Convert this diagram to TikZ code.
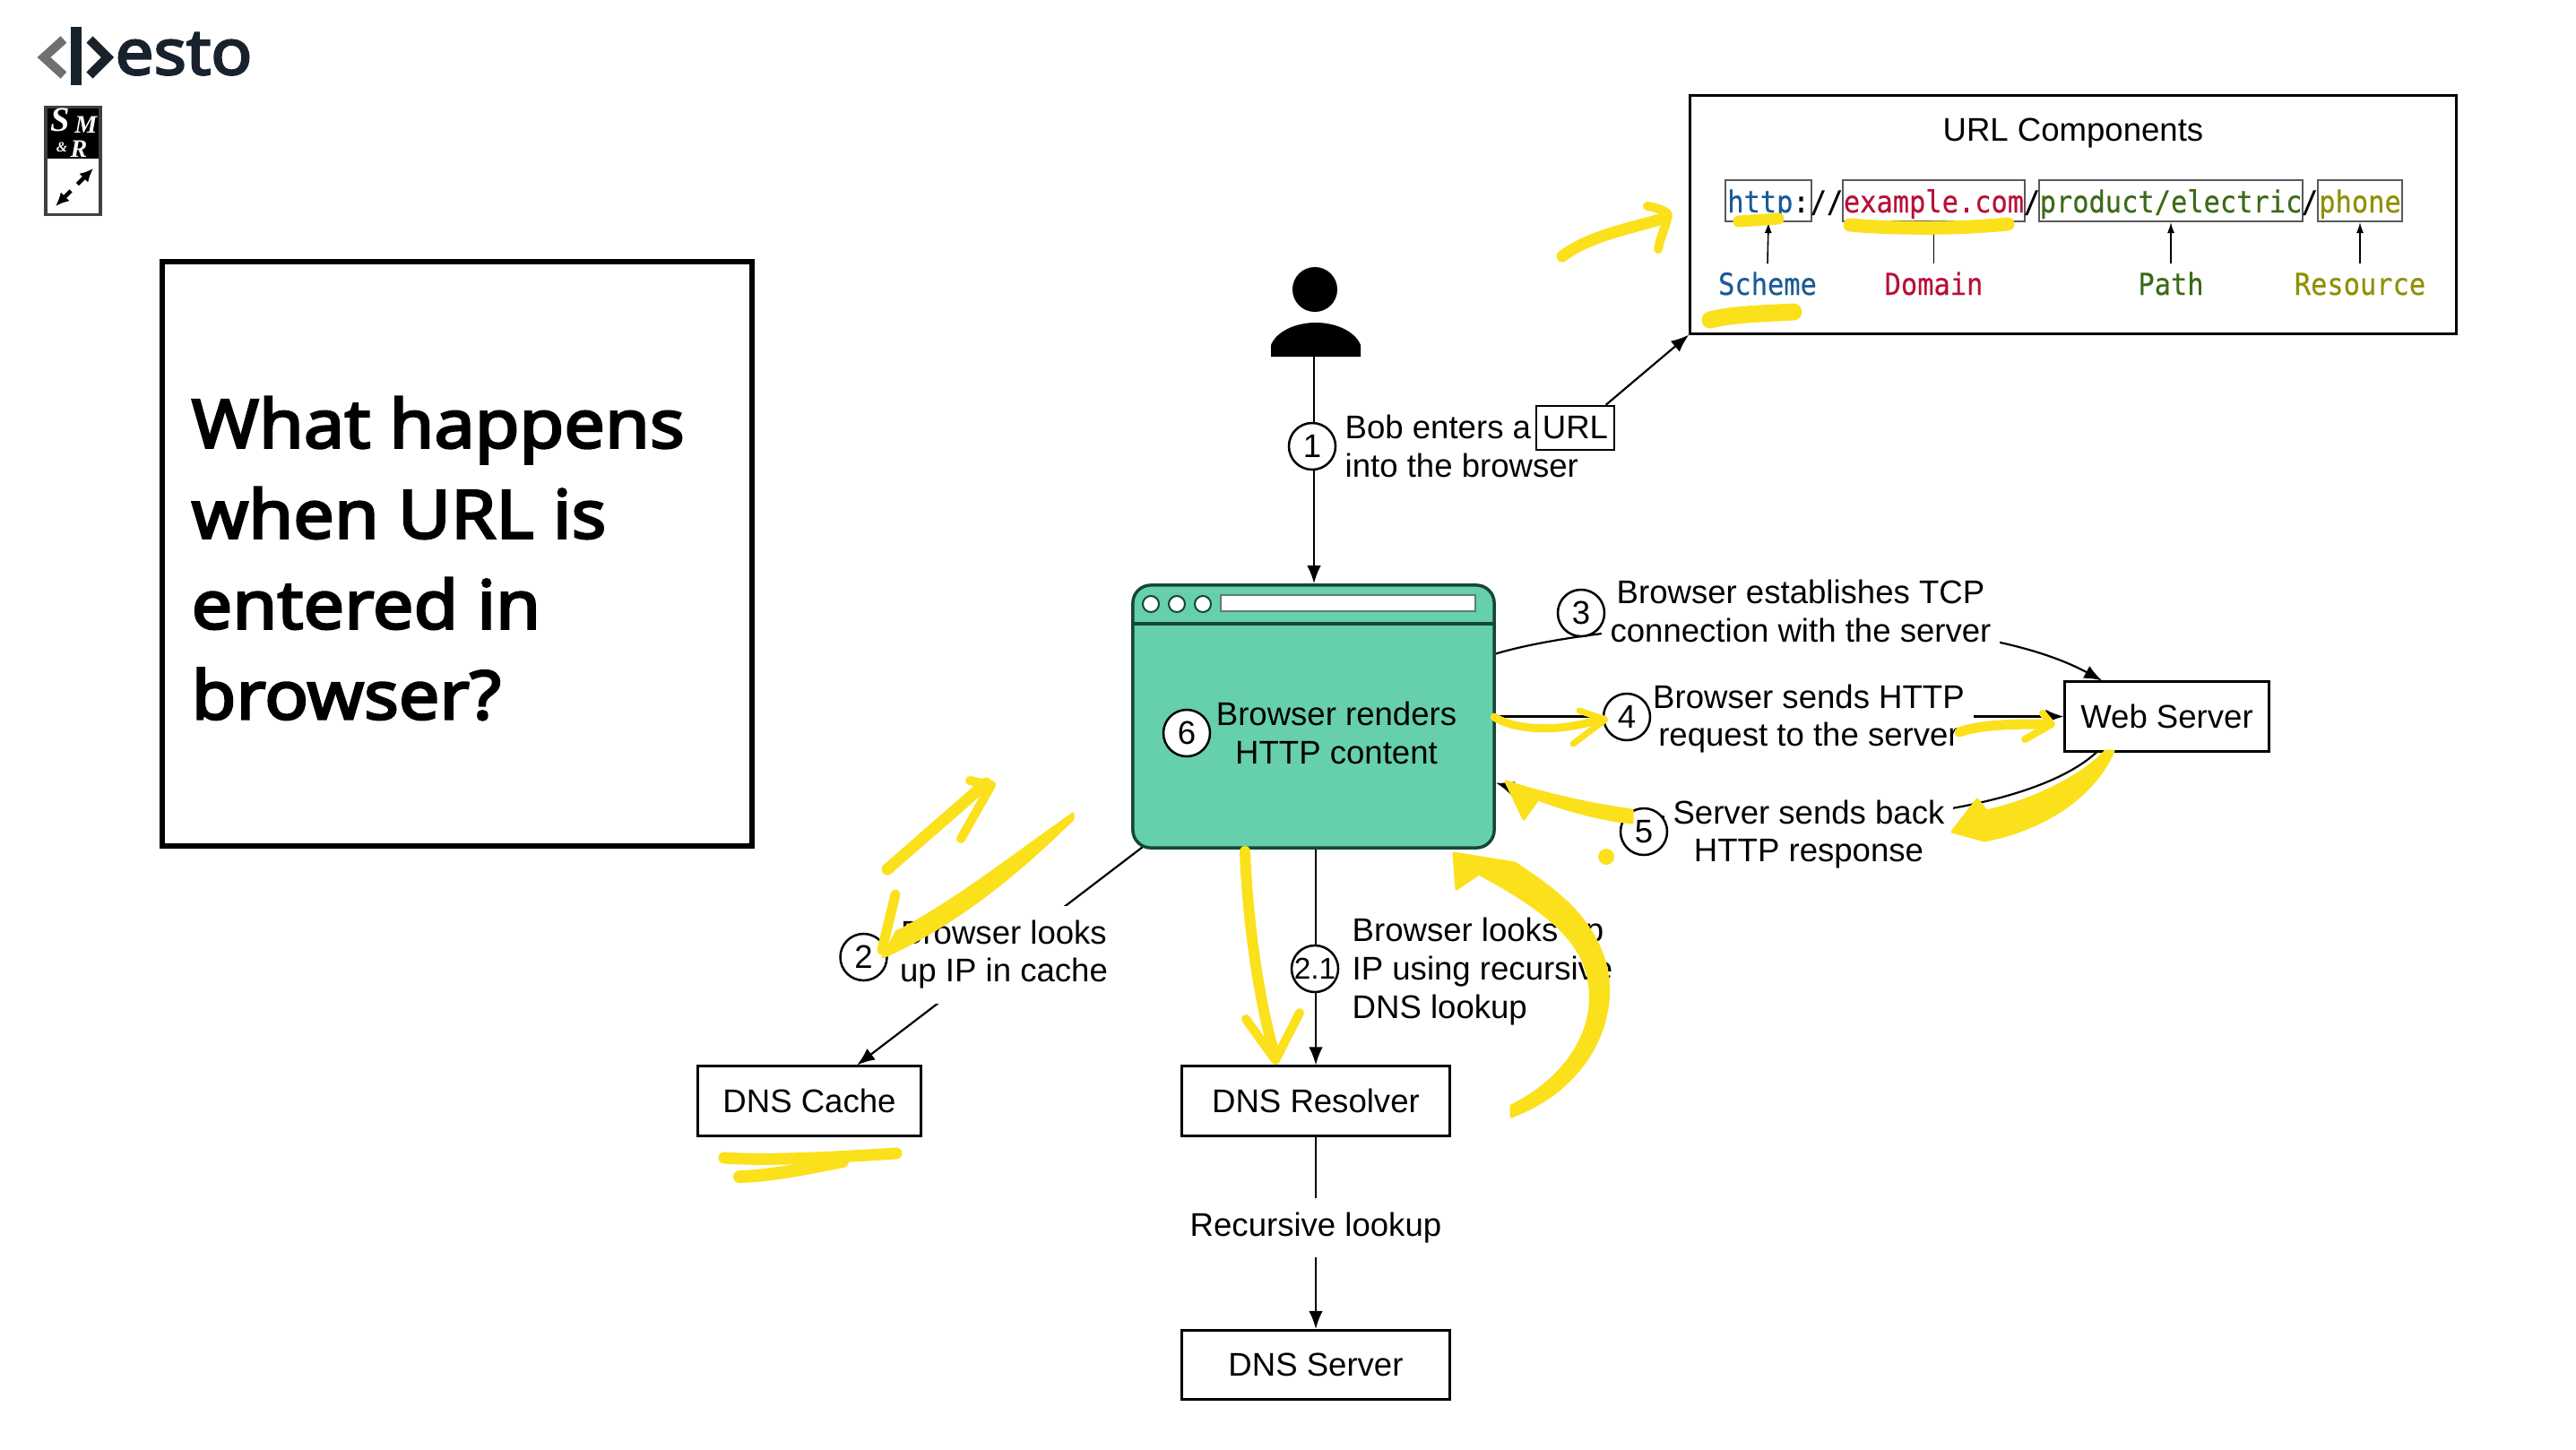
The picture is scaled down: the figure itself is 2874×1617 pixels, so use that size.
\documentclass[tikz,border=0pt]{standalone}
\usepackage{fontspec}
\setmainfont{Liberation Sans}
\newfontfamily\urlfont[FakeStretch=.9,FakeBold=.4]{DejaVu Sans Mono}
\newfontfamily\titlefont[FakeBold=3.4,FakeStretch=1.08]{Noto Sans}
\newfontfamily\badgefont{Liberation Serif}
\usetikzlibrary{arrows.meta}
\definecolor{urlblue}{HTML}{1A5A96}
\definecolor{urlred}{HTML}{B81038}
\definecolor{urlgreen}{HTML}{3C6A18}
\definecolor{urlolive}{HTML}{8E9000}
\definecolor{browsergreen}{HTML}{66CFAC}
\definecolor{browserline}{HTML}{14463A}
\definecolor{marker}{HTML}{FBE01C}
\definecolor{logogray}{HTML}{707070}
\definecolor{logodark}{HTML}{18222C}
\pgfdeclarelayer{back}
\pgfsetlayers{back,main}
\tikzset{
  x=.01cm, y=-.01cm,
  txt/.style={font=\fontsize{10.4}{12.2}\selectfont},
  lbl/.style={txt, fill=white, align=center, inner xsep=.1cm, inner ysep=.16cm},
  stepmark/.style={txt, circle, draw, fill=white, line width=.025cm, minimum size=.52cm, inner sep=0},
  boxnode/.style={txt, rectangle, draw, fill=white, line width=.03cm, minimum height=.77cm},
  urlpart/.style={font=\urlfont\fontsize{9.6}{10}\selectfont, inner sep=0, text height=.30cm, text depth=.04cm},
  urlbox/.style={urlpart, draw=black!65, line width=.02cm, minimum height=.46cm},
  urllabel/.style={font=\urlfont\fontsize{9.6}{10}\selectfont, anchor=base},
  conn/.style={line width=.022cm},
  arrow/.style={conn, -{Latex[length=.2cm, width=.155cm]}},
  smallarrow/.style={line width=.016cm, -{Latex[length=.12cm, width=.08cm]}},
  stroke/.style={draw=marker, line cap=round, line join=round, line width=#1},
  stroke/.default=.12cm,
  blob/.style={fill=marker, draw=marker, line width=.03cm, line join=round}
}
\begin{document}
\begin{tikzpicture}
\useasboundingbox (0,0) rectangle (2874,1617);
% logo
\draw[logogray, line width=.1cm] (71,44) -- (49,64) -- (71,84);
\draw[logodark, line width=.11cm] (85,30) -- (85,95);
\draw[logodark, line width=.1cm] (100,44) -- (120,64) -- (100,84);
\node[font=\titlefont\fontsize{20}{20}\selectfont, text=logodark, anchor=base west, inner sep=0] (logotext) at (128,83) {esto};
% journal badge
\fill[black] (51,119) rectangle (112,177);
\draw[black!75, line width=.03cm] (51,119) rectangle (112,239);
\node[font=\badgefont\bfseries\itshape\fontsize{11}{11}\selectfont, text=white, inner sep=0] (badges) at (67,134) {S};
\node[font=\badgefont\bfseries\itshape\fontsize{8}{8}\selectfont, text=white, inner sep=0] (badgem) at (96,139) {M};
\node[font=\badgefont\bfseries\itshape\fontsize{4.5}{4}\selectfont, text=white, inner sep=0] (badgea) at (69,164) {\&};
\node[font=\badgefont\bfseries\itshape\fontsize{8}{8}\selectfont, text=white, inner sep=0] (badger) at (88,166) {R};
\draw[line width=.045cm, dashed, {Latex[length=.15cm, width=.14cm]}-{Latex[length=.15cm, width=.14cm]}] (62,230) -- (104,188);
% title
\node[rectangle, draw, line width=.06cm, minimum width=6.58cm, minimum height=6.52cm] (titlebox) at (510,618) {};
\node[font=\titlefont\fontsize{21.3}{28.7}\selectfont, align=left, anchor=north west, inner sep=0] (titletext) at (213,442) {What happens\\when URL is\\entered in\\browser?};
% url components
\node[rectangle, draw, line width=.03cm, minimum width=8.54cm, minimum height=2.65cm] (urlcomp) at (2313,239.5) {};
\node[txt, anchor=base] (urlhead) at (2313,157) {URL Components};
\node[urlbox, minimum width=.96cm] (urlscheme) at (1973,224) {\textcolor{urlblue}{http}:};
\node[urlpart] (urlsep) at (2038,224) {//};
\node[urlbox, minimum width=2.03cm, text=urlred] (urldomain) at (2157.5,224) {example.com};
\node[urlpart] (urlsepb) at (2267,224) {/};
\node[urlbox, minimum width=2.94cm, text=urlgreen] (urlpath) at (2422,224) {product/electric};
\node[urlpart] (urlsepc) at (2577,224) {/};
\node[urlbox, minimum width=.94cm, text=urlolive] (urlres) at (2633,224) {phone};
\node[urllabel, text=urlblue] (schemelbl) at (1972,329) {Scheme};
\node[urllabel, text=urlred] (domainlbl) at (2157.5,329) {Domain};
\node[urllabel, text=urlgreen] (pathlbl) at (2422,329) {Path};
\node[urllabel, text=urlolive] (reslbl) at (2633,329) {Resource};
\coordinate (schemefoot) at (1972,294);
\coordinate (domainfoot) at (2157.5,294);
\coordinate (pathfoot) at (2422,294);
\coordinate (resfoot) at (2633,294);
% person
\node[circle, fill=black, minimum size=.5cm, inner sep=0] (personhead) at (1467,323) {};
\fill[black] (1418,398) -- (1418,385) .. controls (1424,370) and (1445,360) .. (1468,360) .. controls (1491,360) and (1512,370) .. (1518,385) -- (1518,398) -- cycle;
\coordinate (person) at (1466,398);
% browser
\node[rectangle, draw=browserline, fill=browsergreen, line width=.035cm, rounded corners=.2cm, minimum width=4.03cm, minimum height=2.93cm] (browser) at (1465.5,799.5) {};
\draw[browserline, line width=.035cm] (1264,696) -- (1667,696);
\foreach \dotx/\dotname in {1284/dota,1313/dotb,1342/dotc}
  \node[circle, draw=browserline, fill=white, line width=.02cm, minimum size=.18cm, inner sep=0] (\dotname) at (\dotx,674) {};
\draw[browserline!70, fill=white, line width=.015cm] (1362,664) rectangle (1646,682);
\node[txt, align=center] (renderlbl) at (1491,818) {Browser renders\\HTTP content};
\node[stepmark] (stepsix) at (1324,818) {6};
% labels
\node[txt, align=left, anchor=west, inner sep=0] (boblbl) at (1500,498) {Bob enters a\\into the browser};
\node[txt, rectangle, draw, line width=.025cm, inner sep=0, minimum width=.87cm, minimum height=.49cm] (urltag) at (1757.5,477.5) {URL};
\node[lbl] (tcplbl) at (2009,682) {Browser establishes TCP\\connection with the server};
\node[lbl] (httplbl) at (2018,802) {Browser sends HTTP\\request to the server};
\node[lbl] (resplbl) at (2018,931) {Server sends back\\HTTP response};
\node[lbl] (cachelbl) at (1120,1065) {Browser looks\\up IP in cache};
\node[txt, align=left, anchor=west, inner sep=0] (dnslbl) at (1508,1084) {Browser looks up\\IP using recursive\\DNS lookup};
\node[lbl] (reclbl) at (1468,1370) {Recursive lookup};
% steps
\node[stepmark] (stepone) at (1464,498) {1};
\node[stepmark] (steptwo) at (963.5,1068) {2};
\node[stepmark, font=\fontsize{9.5}{10}\selectfont] (steptwoone) at (1467,1081) {2.1};
\node[stepmark] (stepthree) at (1764,684) {3};
\node[stepmark] (stepfour) at (1815,800) {4};
\node[stepmark] (stepfive) at (1834,928) {5};
% boxes
\node[boxnode, minimum width=2.27cm] (server) at (2417.5,799.5) {Web Server};
\node[boxnode, minimum width=2.48cm] (cache) at (903,1228.5) {DNS Cache};
\node[boxnode, minimum width=2.98cm] (resolver) at (1468,1228.5) {DNS Resolver};
\node[boxnode, minimum width=2.98cm] (dnsserver) at (1468,1523) {DNS Server};
% connectors
\begin{pgfonlayer}{back}
\draw[arrow] (person) -- (person |- browser.north);
\draw[arrow] (urltag.37) -- (urlcomp.south west);
\draw[arrow] (browser.19) .. controls (1800,690) and (2180,670) .. (server.151);
\draw[arrow] (browser.east) -- (server.west);
\draw[arrow] (server.207) .. controls (2240,930) and (1880,940) .. (browser.-20);
\draw[arrow] (browser.center) -- (cache.37);
\draw[arrow] (resolver.north |- browser.south) -- (resolver.north);
\draw[arrow] (resolver) -- (dnsserver);
\draw[smallarrow] (schemefoot) -- (urlscheme.south);
\draw[smallarrow] (domainfoot) -- (urldomain.south);
\draw[smallarrow] (pathfoot) -- (urlpath.south);
\draw[smallarrow] (resfoot) -- (urlres.south);
\end{pgfonlayer}
% highlighter
\draw[stroke=.13cm] (1743,286) .. controls (1775,262) and (1820,255) .. (1858,243);
\draw[stroke=.10cm] (1838,230) .. controls (1850,232) and (1860,236) .. (1861,240) .. controls (1858,255) and (1852,265) .. (1850,278);
\draw[stroke=.13cm] (1940,247) -- (1984,244);
\draw[stroke=.15cm] (2064,251) .. controls (2120,256) and (2190,255) .. (2240,250);
\draw[stroke=.19cm] (1908,357) .. controls (1935,350) and (1970,350) .. (2001,348);
\draw[stroke=.09cm] (1667,800) .. controls (1690,815) and (1740,818) .. (1787,802);
\draw[stroke=.07cm] (1762,793) -- (1791,803) -- (1755,830);
\draw[stroke=.11cm] (2186,817) .. controls (2210,808) and (2250,808) .. (2285,808);
\draw[stroke=.08cm] (2279,796) -- (2289,808) -- (2259,825);
\draw[blob] (2358,838) .. controls (2335,890) and (2280,925) .. (2214,938) -- (2178,928) -- (2206,892) -- (2216,905) .. controls (2270,893) and (2325,865) .. (2349,838) -- cycle;
\draw[blob] (1821,904) .. controls (1770,897) and (1720,885) .. (1680,872) -- (1700,914) -- (1716,892) .. controls (1750,905) and (1790,915) .. (1821,918) -- cycle;
\draw[blob] (1686,1246) .. controls (1770,1215) and (1805,1140) .. (1792,1080) .. controls (1777,1020) and (1730,990) .. (1690,963) -- (1622,952) -- (1625,992) -- (1650,975) .. controls (1705,1005) and (1762,1040) .. (1772,1090) .. controls (1785,1150) and (1745,1205) .. (1686,1234) -- cycle;
\draw[stroke=.12cm] (1389,950) .. controls (1392,1030) and (1405,1120) .. (1423,1180);
\draw[stroke=.10cm] (1390,1137) -- (1423,1183) -- (1450,1130);
\fill[marker] (1792,956) circle (9);
\draw[stroke=.13cm] (990,970) -- (1100,874);
\draw[stroke=.10cm] (1082,871) -- (1106,876) -- (1072,936);
\draw[blob] (1197,908) .. controls (1130,955) and (1060,1010) .. (1000,1040) -- (985,1068) .. controls (1070,1030) and (1140,970) .. (1197,914) -- cycle;
\draw[stroke=.11cm] (999,998) -- (984,1060);
\draw[stroke=.13cm] (808,1292) .. controls (860,1296) and (950,1290) .. (1000,1287);
\draw[stroke=.14cm] (825,1313) .. controls (860,1312) and (900,1304) .. (940,1296);
\end{tikzpicture}
\end{document}
